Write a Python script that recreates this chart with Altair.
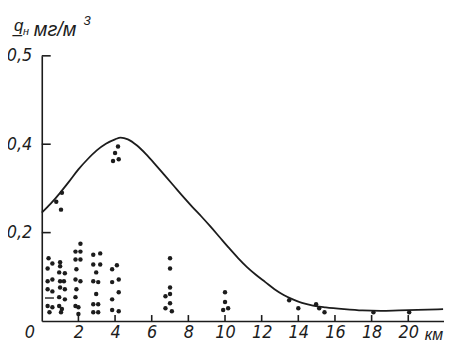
import altair as alt
import pandas as pd

# ---- data ----
curve_x = [0.0, 0.5, 1.0, 1.5, 2.0, 2.5, 3.0, 3.5, 4.0, 4.3, 4.7, 5.2, 5.7, 6.2,
           6.7, 7.2, 7.7, 8.2, 8.7, 9.2, 9.7, 10.2, 10.7, 11.2, 11.7, 12.2, 12.7,
           13.2, 13.7, 14.2, 14.8, 15.5, 16.5, 17.5, 18.5, 19.5, 20.5, 21.9]
curve_q = [0.245, 0.266, 0.29, 0.316, 0.343, 0.366, 0.386, 0.401, 0.411, 0.415,
           0.411, 0.397, 0.377, 0.354, 0.33, 0.306, 0.282, 0.259, 0.237, 0.214,
           0.19, 0.166, 0.143, 0.122, 0.104, 0.088, 0.072, 0.059, 0.049, 0.041,
           0.035, 0.031, 0.027, 0.024, 0.023, 0.024, 0.025, 0.027]

dot_x = [0.37, 0.58, 0.32, 0.58, 0.32, 0.32, 0.58, 0.32, 0.58, 0.42,
         1.0, 1.0, 0.95, 1.26, 1.0, 1.21, 1.0, 1.26, 0.95, 1.26, 0.95, 1.1, 1.05,
         2.11, 1.84, 2.11, 1.84, 2.11, 1.89, 1.84, 2.11, 1.89, 1.84, 1.84, 2.0, 2.0,
         2.81, 3.19, 2.81, 3.19, 2.97, 2.81, 3.08, 2.97, 2.81, 3.08, 2.81, 3.08,
         3.84, 4.1, 3.84, 4.2, 4.2, 3.84, 3.84, 4.2,
         7.0, 7.0, 7.0, 7.0, 6.75, 7.0, 6.75, 7.1,
         10.0, 10.0, 9.9, 10.17,
         13.5, 14.0, 14.97, 15.14, 15.43, 18.1, 20.05,
         4.16, 4.0, 3.89, 4.2,
         1.1, 0.79, 1.05]
dot_q = [0.142, 0.13, 0.119, 0.094, 0.09, 0.072, 0.067, 0.034, 0.031, 0.02,
         0.133, 0.124, 0.11, 0.108, 0.09, 0.09, 0.076, 0.072, 0.054, 0.049, 0.034, 0.027, 0.02,
         0.175, 0.157, 0.157, 0.139, 0.139, 0.117, 0.094, 0.09, 0.072, 0.054, 0.034, 0.031, 0.016,
         0.15, 0.153, 0.128, 0.128, 0.11, 0.09, 0.088, 0.061, 0.038, 0.038, 0.02, 0.02,
         0.117, 0.126, 0.088, 0.094, 0.065, 0.049, 0.025, 0.022,
         0.142, 0.119, 0.076, 0.061, 0.056, 0.04, 0.029, 0.022,
         0.065, 0.043, 0.025, 0.029,
         0.047, 0.029, 0.038, 0.029, 0.02, 0.02, 0.02,
         0.395, 0.38, 0.362, 0.366,
         0.29, 0.27, 0.252]

dash_x = [0.42]
dash_q = [0.052]

x_ticks = [2, 4, 6, 8, 10, 12, 14, 16, 18, 20]
y_ticks = [0.2, 0.4, 0.6]
unit_x = [21.4]

# ---- styling ----
W, H = 405, 267
XMAX = 21.95
FONT = "Liberation Sans Narrow, DejaVu Sans Condensed, sans-serif"
FONT2 = "Liberation Sans, DejaVu Sans, sans-serif"
INK = "#1c1c1c"

xs = alt.Scale(domain=[0, XMAX], nice=False, zero=False)
ys = alt.Scale(domain=[0, 0.6], nice=False)

curve = alt.Chart(pd.DataFrame({"x": curve_x, "q": curve_q})).mark_line(
    color=INK, strokeWidth=1.8, interpolate="monotone"
).encode(
    x=alt.X("x:Q", scale=xs, axis=alt.Axis(
        values=x_ticks, ticks=False, grid=False, domainColor=INK, domainWidth=1.6,
        labelFont=FONT, labelFontStyle="italic", labelFontSize=18, labelColor=INK,
        labelPadding=3, labelOverlap=False, labelFlush=False, title=None)),
    y=alt.Y("q:Q", scale=ys, axis=alt.Axis(
        values=y_ticks, ticks=False, grid=False, domainColor=INK, domainWidth=1.6,
        labelFont=FONT, labelFontStyle="italic", labelFontSize=18, labelColor=INK,
        labelPadding=10, labelOverlap=False, labelFlush=False, title=None,
        labelExpr="datum.value > 0.55 ? '0,5' : replace(format(datum.value, '.1f'), '.', ',')")),
)

dots = alt.Chart(pd.DataFrame({"x": dot_x, "q": dot_q})).mark_circle(
    size=20, color=INK, opacity=1
).encode(x=alt.X("x:Q", scale=xs), y=alt.Y("q:Q", scale=ys))

dash = alt.Chart(pd.DataFrame({"x": dash_x, "q": dash_q})).mark_tick(
    color=INK, orient="horizontal", size=9, thickness=2
).encode(x=alt.X("x:Q", scale=xs), y=alt.Y("q:Q", scale=ys))

yt = alt.Chart(pd.DataFrame({"q": y_ticks})).mark_rule(color=INK, strokeWidth=1.6).encode(
    x=alt.value(0), x2=alt.value(9), y=alt.Y("q:Q", scale=ys))

xt = alt.Chart(pd.DataFrame({"x": x_ticks})).mark_rule(color=INK, strokeWidth=1.6).encode(
    x=alt.X("x:Q", scale=xs), y=alt.value(H), y2=alt.value(H - 6))

one = pd.DataFrame({"a": [0]})

zero_lbl = alt.Chart(one).mark_text(
    text="0", font=FONT, fontStyle="italic", fontSize=18, color=INK, baseline="top", align="center"
).encode(x=alt.value(-12), y=alt.value(H + 3))

unit_lbl = alt.Chart(pd.DataFrame({"x": unit_x})).mark_text(
    text="км", font=FONT2, fontStyle="italic", fontSize=16, color=INK, baseline="alphabetic", align="center"
).encode(x=alt.X("x:Q", scale=xs), y=alt.value(H + 19))

t_q = alt.Chart(one).mark_text(
    text="q̲", font=FONT2, fontStyle="italic", fontSize=17, color=INK, baseline="alphabetic", align="left"
).encode(x=alt.value(-28), y=alt.value(-25))
t_n = alt.Chart(one).mark_text(
    text="н", font=FONT2, fontStyle="italic", fontSize=11, color=INK, baseline="alphabetic", align="left"
).encode(x=alt.value(-19), y=alt.value(-21))
t_u = alt.Chart(one).mark_text(
    text="мг/м", font=FONT2, fontStyle="italic", fontSize=20, color=INK, baseline="alphabetic", align="left"
).encode(x=alt.value(-8), y=alt.value(-20))
t_3 = alt.Chart(one).mark_text(
    text="3", font=FONT2, fontStyle="italic", fontSize=13, color=INK, baseline="alphabetic", align="left"
).encode(x=alt.value(42), y=alt.value(-31))

chart = alt.layer(curve, dots, dash, yt, xt, zero_lbl, unit_lbl, t_q, t_n, t_u, t_3).properties(
    width=W, height=H,
    padding={"left": 34, "top": 47, "right": 0, "bottom": 23},
    autosize=alt.AutoSizeParams(type="none"),
    background="white",
).configure_view(stroke=None)

chart.save("out.html", embed_options={"renderer": "svg", "actions": False})
